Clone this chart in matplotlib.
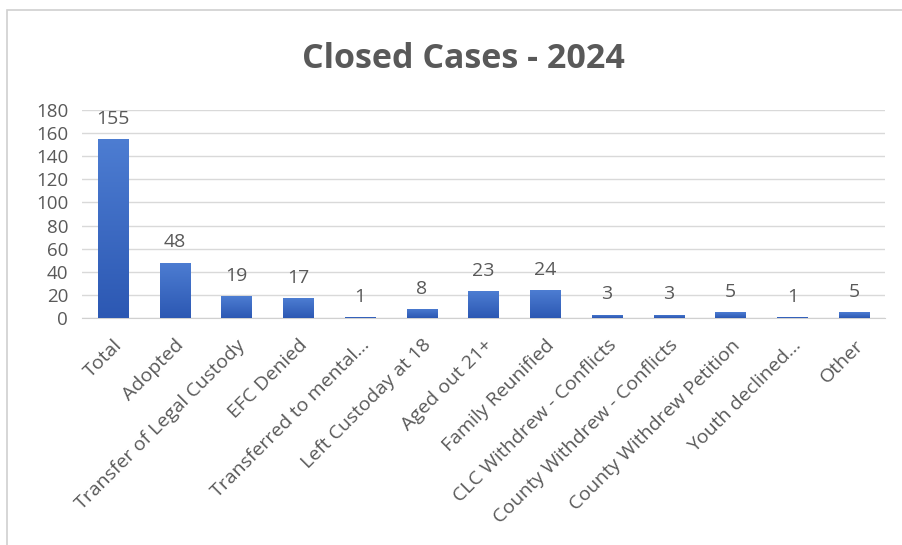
import numpy as np
import matplotlib
matplotlib.use('Agg')
import matplotlib.pyplot as plt
from matplotlib.colors import LinearSegmentedColormap
from matplotlib.patches import Rectangle

categories = ['Total', 'Adopted', 'Transfer of Legal Custody', 'EFC Denied',
              'Transferred to mental...', 'Left Custoday at 18', 'Aged out 21+',
              'Family Reunified', 'CLC Withdrew - Conflicts',
              'County Withdrew - Conflicts', 'County Withdrew Petition',
              'Youth declined...', 'Other']
values = [155, 48, 19, 17, 1, 8, 23, 24, 3, 3, 5, 1, 5]
yticks = [0, 20, 40, 60, 80, 100, 120, 140, 160, 180]

grey = '#595959'
plt.rcParams['font.family'] = ['Open Sans', 'DejaVu Sans']

fig = plt.figure(figsize=(9.02, 5.45), dpi=100)
fig.patches.append(Rectangle((7 / 902, -0.1), 1.1, 1 - 10 / 545 + 0.1,
                             transform=fig.transFigure, fill=False,
                             edgecolor='#d0d0d0', linewidth=1.2))

ax = fig.add_axes([82 / 902, 1 - 318 / 545, (885 - 82) / 902, (318 - 110) / 545])
x = np.arange(len(categories))
bars = ax.bar(x, values, width=0.49, color='none', zorder=3)

# excel-ish gradient fill
cmap = LinearSegmentedColormap.from_list('blu', ['#2c58b3', '#4d7dd2'])
grad = np.linspace(0, 1, 256).reshape(-1, 1)
for b in bars:
    bx, by = b.get_x(), b.get_y()
    w, h = b.get_width(), b.get_height()
    im = ax.imshow(grad, cmap=cmap, aspect='auto', origin='lower',
                   extent=[bx, bx + w, by, by + h], zorder=3)
    im.set_clip_path(b)

for xi, v in zip(x, values):
    ax.annotate(str(v), (xi, v), xytext=(0, 8), textcoords='offset points',
                ha='center', va='bottom', fontsize=14, color=grey)

ax.set_xlim(-0.5, len(categories) - 0.5)
ax.set_ylim(0, 180)
ax.set_yticks(yticks)
ax.set_xticks(x)
ax.set_xticklabels(categories, rotation=45, ha='right', rotation_mode='anchor')
ax.tick_params(axis='both', length=0, labelcolor=grey)
ax.tick_params(axis='x', pad=13, labelsize=14)
ax.tick_params(axis='y', pad=10, labelsize=13.5)
ax.grid(axis='y', color='#d9d9d9', linewidth=1, zorder=0)
for s in ['top', 'right', 'left']:
    ax.spines[s].set_visible(False)
ax.spines['bottom'].set_color('#d0d0d0')

fig.text(463 / 902, 1 - 59 / 545, 'Closed Cases - 2024', ha='center', va='center',
         fontsize=24.5, fontweight='bold', color=grey)

fig.savefig('out.png', dpi=100)
